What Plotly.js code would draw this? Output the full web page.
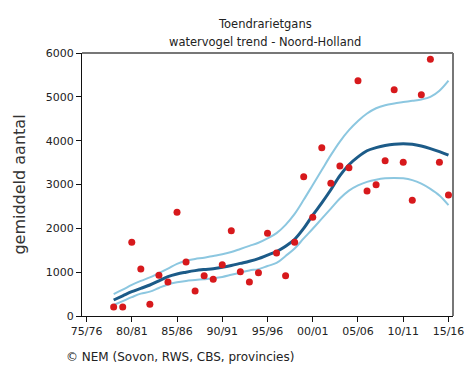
<!DOCTYPE html>
<html>
<head>
<meta charset="utf-8">
<script src="https://cdn.plot.ly/plotly-3.0.1.min.js"></script>
<style>html,body{margin:0;padding:0;background:#fff;}#chart{width:465px;height:372px;}</style>
</head>
<body>
<div id="chart"></div>
<script>
var years = [1978,1979,1980,1981,1982,1983,1984,1985,1986,1987,1988,1989,1990,1991,1992,1993,1994,1995,1996,1997,1998,1999,2000,2001,2002,2003,2004,2005,2006,2007,2008,2009,2010,2011,2012,2013,2014,2015];
var counts = [205,205,1681,1072,267,929,776,2366,1232,570,919,837,1170,1946,1011,776,988,1887,1437,919,1681,3178,2252,3840,3028,3422,3384,5369,2852,2996,3543,5163,3507,2640,5049,5857,3507,2761];
var trend = [365,460,555,630,707,800,900,960,1000,1035,1060,1080,1110,1150,1200,1250,1310,1390,1470,1590,1750,2000,2300,2580,2880,3200,3450,3630,3770,3840,3890,3920,3930,3920,3880,3820,3750,3670];
var upper = [500,600,710,800,880,980,1080,1190,1260,1300,1330,1370,1410,1460,1530,1600,1670,1770,1890,2080,2330,2650,2990,3330,3670,3980,4240,4450,4620,4740,4810,4850,4880,4910,4940,5000,5140,5370];
var lower = [250,340,430,510,555,640,720,770,800,820,840,860,890,940,990,1040,1070,1140,1210,1370,1540,1770,1990,2220,2450,2680,2860,2980,3060,3110,3140,3150,3140,3100,3020,2900,2750,2530];
var tickYears = [1975,1980,1985,1990,1995,2000,2005,2010,2015];
var tickLabels = ["75/76","80/81","85/86","90/91","95/96","00/01","05/06","10/11","15/16"];
var titleLine1 = "Toendrarietgans";
var titleLine2 = "watervogel trend - Noord-Holland";
var yTitle = "gemiddeld aantal";
var footer = "\u00a9 NEM (Sovon, RWS, CBS, provincies)";

var font = "DejaVu Sans, Verdana, sans-serif";
var traces = [
  {x: years, y: upper, mode: "lines", line: {color: "#8cc7e0", width: 2, shape: "spline"}, hoverinfo: "skip"},
  {x: years, y: lower, mode: "lines", line: {color: "#8cc7e0", width: 2, shape: "spline"}, hoverinfo: "skip"},
  {x: years, y: trend, mode: "lines", line: {color: "#1c5b88", width: 3, shape: "spline"}, hoverinfo: "skip"},
  {x: years, y: counts, mode: "markers", marker: {color: "#d7191c", size: 7}, hoverinfo: "skip"}
];
var layout = {
  width: 465, height: 372,
  margin: {l: 82, r: 12, t: 53, b: 56},
  paper_bgcolor: "#fff", plot_bgcolor: "#fff",
  showlegend: false,
  font: {family: font, size: 11, color: "#222"},
  xaxis: {
    range: [1974.5, 2015.5], tickmode: "array", tickvals: tickYears, ticktext: tickLabels,
    showgrid: false, zeroline: false, showline: true, linecolor: "#111", linewidth: 1,
    ticks: "outside", ticklen: 5, tickcolor: "#111", tickfont: {family: font, size: 11, color: "#222"}
  },
  yaxis: {
    range: [0, 6000], tickvals: [0,1000,2000,3000,4000,5000,6000],
    showgrid: false, zeroline: false, showline: true, linecolor: "#111", linewidth: 1,
    ticks: "outside", ticklen: 5, tickcolor: "#111", tickfont: {family: font, size: 11, color: "#222"},
    title: {text: yTitle, font: {family: font, size: 16, color: "#333"}, standoff: 16}
  },
  shapes: [
    {type: "line", xref: "paper", yref: "paper", x0: 0, x1: 1, y0: 1, y1: 1, line: {color: "#777", width: 2}},
    {type: "line", xref: "paper", yref: "paper", x0: 1, x1: 1, y0: 0, y1: 1, line: {color: "#777", width: 2}}
  ],
  annotations: [
    {text: titleLine1, xref: "paper", yref: "paper", x: 0.493, y: 1.110, xanchor: "center", yanchor: "middle", showarrow: false, font: {family: font, size: 11.5, color: "#222"}},
    {text: titleLine2, xref: "paper", yref: "paper", x: 0.493, y: 1.042, xanchor: "center", yanchor: "middle", showarrow: false, font: {family: font, size: 11.5, color: "#222"}},
    {text: footer, xref: "paper", yref: "paper", x: -0.048, y: -0.157, xanchor: "left", yanchor: "middle", showarrow: false, font: {family: font, size: 12, color: "#222"}}
  ]
};
Plotly.newPlot("chart", traces, layout, {staticPlot: true, displayModeBar: false});
</script>
</body>
</html>
